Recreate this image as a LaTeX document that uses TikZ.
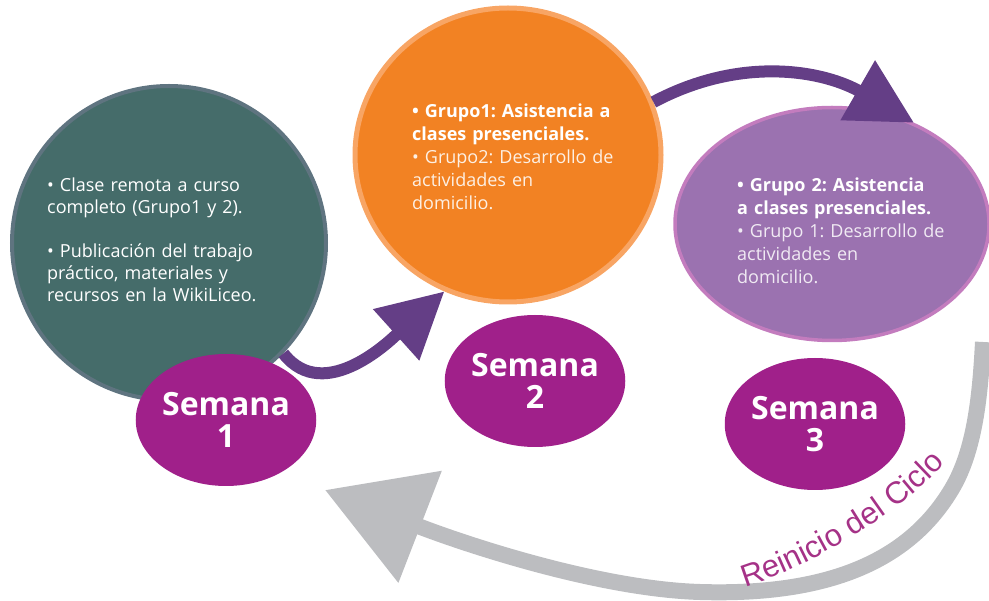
\documentclass[tikz,border=0pt]{standalone}
\usepackage{fontspec}
\setmainfont{Open Sans}
\newfontfamily\arialfont{Liberation Sans}
\usetikzlibrary{shapes.geometric,arrows.meta,decorations.text}
\frenchspacing

\definecolor{verde}{HTML}{456C6A}
\definecolor{verdeborde}{HTML}{5F7480}
\definecolor{naranja}{HTML}{F28223}
\definecolor{naranjaborde}{HTML}{F8A564}
\definecolor{lila}{HTML}{9B72B0}
\definecolor{lilaborde}{HTML}{C37CBE}
\definecolor{magenta}{HTML}{A0208A}
\definecolor{flechacol}{HTML}{643E86}
\definecolor{gris}{HTML}{BCBDC0}
\definecolor{reinicio}{HTML}{A53287}

\begin{document}
\begin{tikzpicture}[x=1pt, y=1pt,
    semana/.style={ellipse, fill=magenta, minimum width=176pt, minimum height=132pt,
      inner sep=0pt, text=white, align=center, font=\fontsize{32}{32}\selectfont\bfseries},
    txt/.style={text=white, font=\fontsize{18}{22}\selectfont, text width=250pt,
      align=left, inner sep=0pt, anchor=base west},
    flecha/.style={draw=flechacol, line width=12pt, -{Triangle[width=66pt,length=65pt]}}]
  \useasboundingbox (0,0) rectangle (989,-601);

  % The three weeks
  \node[circle, fill=verde, draw=verdeborde, line width=4pt, minimum size=314pt] (green) at (169,-243) {};
  \node[ellipse, fill=naranja, draw=naranjaborde, line width=5pt, minimum width=306pt, minimum height=294pt] (orange) at (508,-155) {};
  \node[ellipse, fill=lila, draw=lilaborde, line width=3.5pt, minimum width=314pt, minimum height=233pt] (purple) at (832,-224) {};

  % Week labels
  \node[semana] (sem1) at (226,-420) {Semana\\1};
  \node[semana] (sem2) at (535,-381) {Semana\\2};
  \node[semana] (sem3) at (815,-424) {Semana\\3};

  % Arrows between the weeks
  \draw[flecha] (green.-44) to[out=-52, in=-138] (orange.245);
  \draw[flecha] (orange.20) to[out=28, in=150] (purple.51);

  % Back to the start
  \coordinate (rstart) at (983,-342);
  \coordinate (rmid) at (700,-592);
  \coordinate (rend) at (325,-490);
  \draw[draw=gris, line width=16pt, -{Triangle[width=116pt,length=102pt]}]
    (rstart) .. controls (980,-400) and (974,-454) .. (950,-492)
    .. controls (908,-560) and (830,-596) .. (rmid)
    .. controls (600,-589) and (467,-545) .. (rend);
  \path[decorate, decoration={text along path, text align=left, text color=reinicio,
      text={|\arialfont\fontsize{31}{31}\selectfont|Reinicio del Ciclo}}]
    (745,-587) .. controls (812,-567) and (928,-499) .. (962,-440);

  % Texts
  \node[txt] (greentxt) at (47,-192) {• Clase remota a curso\\ completo (Grupo1 y 2).\\[22pt]
    • Publicación del trabajo\\ práctico, materiales y\\ recursos en la WikiLiceo.};
  \node[txt, font=\fontsize{18}{23}\selectfont, text=naranja!12] (orangetxt) at (412,-118)
    {\textcolor{white}{\bfseries • Grupo1: Asistencia a\\ clases presenciales.}\\
    • Grupo2: Desarrollo de\\ actividades en\\ domicilio.};
  \node[txt, font=\fontsize{18}{23}\selectfont, text=lila!15] (purpletxt) at (737,-192)
    {\textcolor{white}{\bfseries • Grupo 2: Asistencia\\ a clases presenciales.}\\
    • Grupo 1: Desarrollo de\\ actividades en\\ domicilio.};
\end{tikzpicture}
\end{document}
